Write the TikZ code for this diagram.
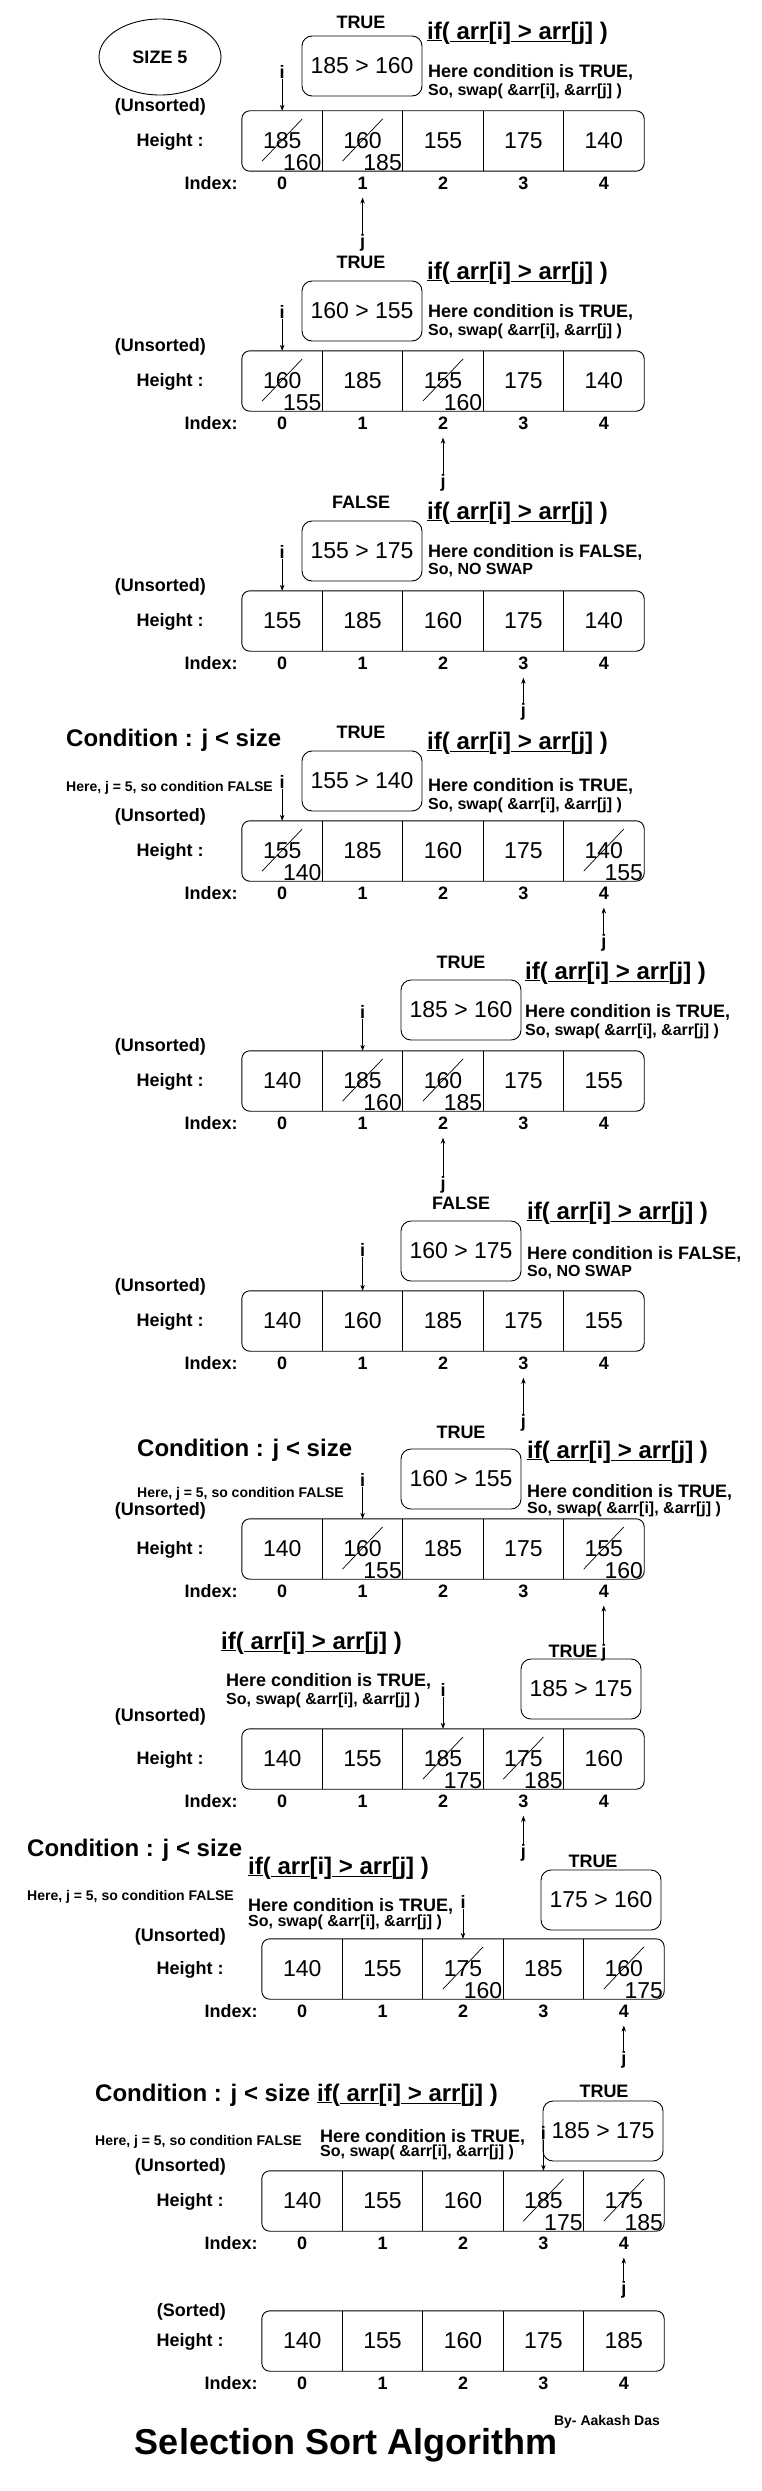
\documentclass[tikz,border=0pt]{standalone}
\usepackage{fontspec}
\setmainfont{Liberation Sans}
\usetikzlibrary{calc,arrows.meta,shapes.geometric}
\tikzset{
  cell/.style={minimum width=80.4pt, minimum height=60pt, inner sep=0pt, font=\fontsize{23}{23}\selectfont},
  num/.style={inner sep=0pt, font=\fontsize{23}{23}\selectfont},
  box/.style={draw=black, line width=0.9pt, rounded corners=8pt},
  sep/.style={draw=black, line width=0.7pt},
  strike/.style={draw=black, line width=0.7pt, line cap=round},
  cmp/.style={draw=black, line width=0.9pt, rounded corners=10pt, minimum width=120pt, minimum height=60pt, inner sep=0pt, font=\fontsize{23}{23}\selectfont},
  ptr/.style={draw=black, line width=0.7pt, -{Stealth[length=6pt,width=4.5pt]}},
  lab/.style={inner sep=0pt, font=\bfseries\fontsize{18}{18}\selectfont},
  labs/.style={inner sep=0pt, font=\bfseries\fontsize{16}{16}\selectfont},
  labt/.style={inner sep=0pt, font=\bfseries\fontsize{14}{14}\selectfont},
  head/.style={inner sep=0pt, font=\bfseries\fontsize{24}{24}\selectfont},
  idx/.style={inner sep=0pt, font=\bfseries\fontsize{18}{18}\selectfont},
}
% #1 name, #2 left x, #3 top y, #4 values
\newcommand\heightrow[4]{%
  \foreach \v [count=\k from 0] in {#4}
    \node[cell] (#1c\k) at (#2+40.2+80.4*\k, #3+30) {\v};
  \draw[box] (#1c0.north west) rectangle (#1c4.south east);
  \foreach \k in {1,...,4}
    \draw[sep] (#1c\k.north west) -- (#1c\k.south west);
  \foreach \k in {0,...,4}
    \node[idx] (#1x\k) at ($(#1c\k.south)+(0,12)$) {\k};
  \node[lab, anchor=east] (#1h) at ($(#1c0.west)+(-38,1)$) {Height :};
  \node[lab, anchor=east] (#1n) at ($(#1c0.south west)+(-4,12)$) {Index:};
}
% old value struck, new value in the corner
\newcommand\crossout[2]{%
  \draw[strike] ($(#1)+(-20,20)$) -- ($(#1)+(20,-22)$);
  \node[num, anchor=south east] (#1s) at ($(#1.south east)+(-1,0)$) {#2};
}
\newcommand\iptr[3]{%
  \node[lab] (#1i) at ($(#1c#2.north)+(0,-#3)$) {i};
  \draw[ptr] (#1i) -- (#1c#2.north);
}
\newcommand\jptr[3]{%
  \node[lab] (#1j) at ($(#1x#2)+(0,#3)$) {j};
  \draw[ptr, shorten >=8pt] (#1j) -- (#1x#2);
}
\newcommand\ifline{\underline{if}(\underline{ arr}[i]\underline{ > arr}[j] )}
\begin{document}
\begin{tikzpicture}[x=1pt, y=-1pt]
  \fill[white] (0,0) rectangle (761,2491);
  \useasboundingbox (0,0) rectangle (761,2491);

  % pass 1
  \node[lab, draw, ellipse, line width=0.9pt, minimum width=122pt, minimum height=76pt] (size) at (160,57) {SIZE 5};
  \node[lab] (p1v) at (361,22) {TRUE};
  \node[cmp] (p1q) at (362,66) {185 > 160};
  \node[head, anchor=west] (p1f) at (427,33) {\ifline};
  \node[lab, anchor=west] (p1r) at (428,72) {Here condition is TRUE,};
  \node[labs, anchor=west] (p1s) at (428,91) {So, swap( \&arr[i], \&arr[j] )};
  \node[lab, anchor=east] (p1u) at (206,107) {(Unsorted)};
  \heightrow{p1}{242}{111}{185,160,155,175,140}
  \crossout{p1c0}{160}
  \crossout{p1c1}{185}
  \iptr{p1}{0}{39}
  \jptr{p1}{1}{60}

  % pass 2
  \node[lab] (p2v) at (361,262) {TRUE};
  \node[cmp] (p2q) at (362,311) {160 > 155};
  \node[head, anchor=west] (p2f) at (427,273) {\ifline};
  \node[lab, anchor=west] (p2r) at (428,312) {Here condition is TRUE,};
  \node[labs, anchor=west] (p2s) at (428,331) {So, swap( \&arr[i], \&arr[j] )};
  \node[lab, anchor=east] (p2u) at (206,347) {(Unsorted)};
  \heightrow{p2}{242}{351}{160,185,155,175,140}
  \crossout{p2c0}{155}
  \crossout{p2c2}{160}
  \iptr{p2}{0}{39}
  \jptr{p2}{2}{60}

  % pass 3
  \node[lab] (p3v) at (361,502) {FALSE};
  \node[cmp] (p3q) at (362,551) {155 > 175};
  \node[head, anchor=west] (p3f) at (427,513) {\ifline};
  \node[lab, anchor=west] (p3r) at (428,552) {Here condition is FALSE,};
  \node[labs, anchor=west] (p3s) at (428,570) {So, NO SWAP};
  \node[lab, anchor=east] (p3u) at (206,587) {(Unsorted)};
  \heightrow{p3}{242}{591}{155,185,160,175,140}
  \iptr{p3}{0}{39}
  \jptr{p3}{3}{49}

  % pass 4
  \node[head, anchor=west] (p4k) at (66,740) {Condition : j < size};
  \node[labt, anchor=west] (p4e) at (66,788) {Here, j = 5, so condition FALSE};
  \node[lab] (p4v) at (361,732) {TRUE};
  \node[cmp] (p4q) at (362,781) {155 > 140};
  \node[head, anchor=west] (p4f) at (427,743) {\ifline};
  \node[lab, anchor=west] (p4r) at (428,786) {Here condition is TRUE,};
  \node[labs, anchor=west] (p4s) at (428,805) {So, swap( \&arr[i], \&arr[j] )};
  \node[lab, anchor=east] (p4u) at (206,817) {(Unsorted)};
  \heightrow{p4}{242}{821}{155,185,160,175,140}
  \crossout{p4c0}{140}
  \crossout{p4c4}{155}
  \iptr{p4}{0}{39}
  \jptr{p4}{4}{50}

  % pass 5
  \node[lab] (p5v) at (461,962) {TRUE};
  \node[cmp] (p5q) at (461,1010) {185 > 160};
  \node[head, anchor=west] (p5f) at (525,973) {\ifline};
  \node[lab, anchor=west] (p5r) at (525,1012) {Here condition is TRUE,};
  \node[labs, anchor=west] (p5s) at (525,1031) {So, swap( \&arr[i], \&arr[j] )};
  \node[lab, anchor=east] (p5u) at (206,1047) {(Unsorted)};
  \heightrow{p5}{242}{1051}{140,185,160,175,155}
  \crossout{p5c1}{160}
  \crossout{p5c2}{185}
  \iptr{p5}{1}{39}
  \jptr{p5}{2}{62}

  % pass 6
  \node[lab] (p6v) at (461,1203) {FALSE};
  \node[cmp] (p6q) at (461,1251) {160 > 175};
  \node[head, anchor=west] (p6f) at (527,1213) {\ifline};
  \node[lab, anchor=west] (p6r) at (527,1254) {Here condition is FALSE,};
  \node[labs, anchor=west] (p6s) at (527,1272) {So, NO SWAP};
  \node[lab, anchor=east] (p6u) at (206,1287) {(Unsorted)};
  \heightrow{p6}{242}{1291}{140,160,185,175,155}
  \iptr{p6}{1}{41}
  \jptr{p6}{3}{60}

  % pass 7
  \node[head, anchor=west] (p7k) at (137,1450) {Condition : j < size};
  \node[labt, anchor=west] (p7e) at (137,1494) {Here, j = 5, so condition FALSE};
  \node[lab] (p7v) at (461,1432) {TRUE};
  \node[cmp] (p7q) at (461,1479) {160 > 155};
  \node[head, anchor=west] (p7f) at (527,1452) {\ifline};
  \node[lab, anchor=west] (p7r) at (527,1492) {Here condition is TRUE,};
  \node[labs, anchor=west] (p7s) at (527,1509) {So, swap( \&arr[i], \&arr[j] )};
  \node[lab, anchor=east] (p7u) at (206,1511) {(Unsorted)};
  \heightrow{p7}{242}{1519}{140,160,185,175,155}
  \crossout{p7c1}{155}
  \crossout{p7c4}{160}
  \iptr{p7}{1}{39}
  \jptr{p7}{4}{62}

  % pass 8
  \node[head, anchor=west] (p8f) at (221,1643) {\ifline};
  \node[lab, anchor=west] (p8r) at (226,1681) {Here condition is TRUE,};
  \node[labs, anchor=west] (p8s) at (226,1700) {So, swap( \&arr[i], \&arr[j] )};
  \node[lab] (p8v) at (573,1651) {TRUE};
  \node[cmp] (p8q) at (581,1689) {185 > 175};
  \node[lab, anchor=east] (p8u) at (206,1717) {(Unsorted)};
  \heightrow{p8}{242}{1729}{140,155,185,175,160}
  \crossout{p8c2}{175}
  \crossout{p8c3}{185}
  \iptr{p8}{2}{39}
  \jptr{p8}{3}{52}

  % pass 9
  \node[head, anchor=west] (p9k) at (27,1850) {Condition : j < size};
  \node[labt, anchor=west] (p9e) at (27,1897) {Here, j = 5, so condition FALSE};
  \node[head, anchor=west] (p9f) at (248,1868) {\ifline};
  \node[lab, anchor=west] (p9r) at (248,1906) {Here condition is TRUE,};
  \node[labs, anchor=west] (p9s) at (248,1922) {So, swap( \&arr[i], \&arr[j] )};
  \node[lab] (p9v) at (593,1861) {TRUE};
  \node[cmp] (p9q) at (601,1900) {175 > 160};
  \node[lab, anchor=east] (p9u) at (226,1937) {(Unsorted)};
  \heightrow{p9}{262}{1939}{140,155,175,185,160}
  \crossout{p9c2}{160}
  \crossout{p9c4}{175}
  \iptr{p9}{2}{37}
  \jptr{p9}{4}{49}

  % pass 10
  \node[head, anchor=west] (pak) at (95,2095) {Condition : j < size};
  \node[labt, anchor=west] (pae) at (95,2142) {Here, j = 5, so condition FALSE};
  \node[head, anchor=west] (paf) at (317,2095) {\ifline};
  \node[lab, anchor=west] (par) at (320,2137) {Here condition is TRUE,};
  \node[labs, anchor=west] (pas) at (320,2152) {So, swap( \&arr[i], \&arr[j] )};
  \node[lab] (pav) at (604,2091) {TRUE};
  \node[cmp] (paq) at (603,2131) {185 > 175};
  \node[lab, anchor=east] (pau) at (226,2167) {(Unsorted)};
  \heightrow{pa}{262}{2171}{140,155,160,185,175}
  \crossout{pac3}{175}
  \crossout{pac4}{185}
  \iptr{pa}{3}{38}
  \jptr{pa}{4}{47}

  % sorted
  \node[lab, anchor=east] (pbu) at (226,2312) {(Sorted)};
  \heightrow{pb}{262}{2311}{140,155,160,175,185}

  \node[labt] (by) at (607,2422) {By- Aakash Das};
  \node[inner sep=0pt, font=\bfseries\fontsize{36}{36}\selectfont] (title) at (346,2445) {Selection Sort Algorithm};
\end{tikzpicture}
\end{document}
